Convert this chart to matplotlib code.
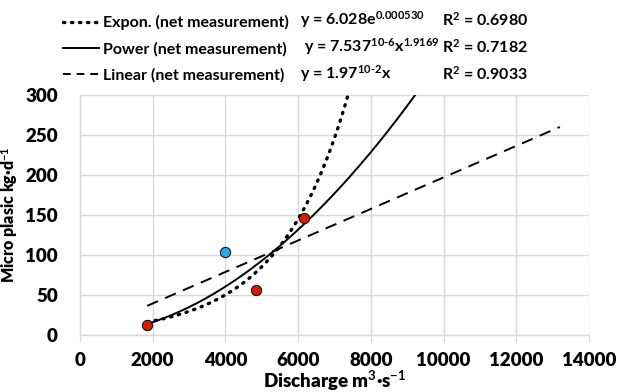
import numpy as np
import matplotlib.pyplot as plt
from matplotlib.lines import Line2D

plt.rcParams['font.family'] = ['Lato', 'DejaVu Sans']
plt.rcParams['font.weight'] = 'bold'
plt.rcParams['mathtext.fontset'] = 'custom'
plt.rcParams['mathtext.rm'] = 'Lato:bold'
plt.rcParams['mathtext.it'] = 'Lato:bold'
plt.rcParams['mathtext.bf'] = 'Lato:bold'

# measured points (discharge, micro plastic load)
red_x = [1850, 4850, 6150]
red_y = [13, 56, 146]
blue_x = [4000]
blue_y = [104]

# trendline coefficients as printed on the chart
exp_a, exp_b = 6.028, 0.000530
pow_a, pow_b = 7.537e-6, 1.9169
lin_a = 1.97e-2
trend_start = 1850
lin_end = 13200

fig = plt.figure(figsize=(6.17, 3.92), dpi=100)
ax = fig.add_axes([80 / 617, 1 - 335 / 392, (589 - 80) / 617, 240 / 392])

x_exp = np.linspace(trend_start, np.log(300 / exp_a) / exp_b, 200)
x_pow = np.linspace(trend_start, (300 / pow_a) ** (1 / pow_b), 200)
x_lin = np.array([trend_start, lin_end])

dot_style = (0, (0.4, 2.0))
ax.plot(x_exp, exp_a * np.exp(exp_b * x_exp), color='black', lw=2.4,
        linestyle=dot_style, dash_capstyle='round', zorder=3)
ax.plot(x_pow, pow_a * x_pow ** pow_b, color='black', lw=1.4, zorder=3)
ax.plot(x_lin, lin_a * x_lin, color='black', lw=1.4,
        linestyle=(0, (6, 4)), zorder=3)

ax.scatter(red_x, red_y, s=55, color='#CC2200', edgecolor='black', lw=0.7, zorder=4)
ax.scatter(blue_x, blue_y, s=55, color='#2FA4E7', edgecolor='black', lw=0.7, zorder=4)

ax.set_xlim(0, 14000)
ax.set_ylim(0, 300)
ax.set_xticks(range(0, 14001, 2000))
ax.set_yticks(range(0, 301, 50))
ax.grid(True, color='#D9D9D9', lw=1)
ax.set_axisbelow(True)
for s in ['top', 'right']:
    ax.spines[s].set_visible(False)
for s in ['left', 'bottom']:
    ax.spines[s].set_color('#D9D9D9')
    ax.spines[s].set_linewidth(1)
ax.tick_params(axis='x', colors='#D9D9D9', labelcolor='black', length=5,
               labelsize=13.5, pad=7)
ax.tick_params(axis='y', length=0, labelsize=13.5, pad=16)
for t in ax.get_xticklabels() + ax.get_yticklabels():
    t.set_fontweight('heavy')
ax.set_xlabel('Discharge m$^{3}$·s$^{-1}$', fontsize=13.5, fontweight='heavy', labelpad=0)
ax.set_ylabel('Micro plasic kg·d$^{-1}$', fontsize=11.5, fontweight='heavy', labelpad=4)

handles = [
    Line2D([], [], color='black', lw=2.4, linestyle=dot_style, dash_capstyle='round'),
    Line2D([], [], color='black', lw=1.4),
    Line2D([], [], color='black', lw=1.4, linestyle=(0, (4, 3))),
]
labels = ['Expon. (net measurement)', 'Power (net measurement)',
          'Linear (net measurement)']
fig.legend(handles, labels, loc='upper left', bbox_to_anchor=(57 / 617, 1 - 9 / 392),
           frameon=False, fontsize=11.5, handlelength=2.2, handletextpad=0.3,
           labelspacing=0.72, borderaxespad=0)

eqs = ['y = 6.028e$^{0.000530}$', 'y = 7.537$^{10\u20106}$x$^{1.9169}$',
       'y = 1.97$^{10\u20102}$x']
r2 = ['R$^{2}$ = 0.6980', 'R$^{2}$ = 0.7182', 'R$^{2}$ = 0.9033']
eq_x = [300, 304, 300]
rows_y = [20, 47, 74]
for e, r, ex, ry in zip(eqs, r2, eq_x, rows_y):
    fig.text(ex / 617, 1 - ry / 392, e, fontsize=11.5, va='center', ha='left')
    fig.text(528 / 617, 1 - ry / 392, r, fontsize=11.5, va='center', ha='right')

fig.savefig('out.png', dpi=100)
